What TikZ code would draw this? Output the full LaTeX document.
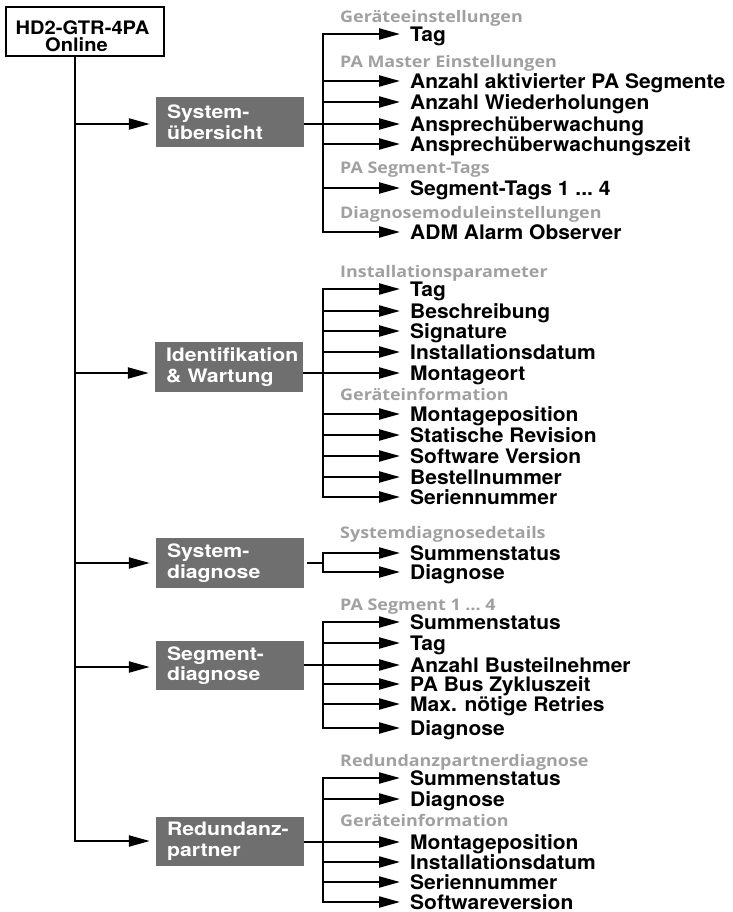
\documentclass[tikz,border=0pt]{standalone}
\usepackage{fontspec}
\usetikzlibrary{arrows.meta}
\newfontfamily\helvitem[FakeStretch=1.05]{TeX Gyre Heros}
\newfontfamily\helvbox[FakeStretch=1.15]{TeX Gyre Heros}
\newfontfamily\helvtop[FakeStretch=1.08]{TeX Gyre Heros}
\newfontfamily\headfont[FakeStretch=1.12]{Open Sans}
\definecolor{boxgray}{HTML}{6F6F6F}
\definecolor{headgray}{HTML}{A0A0A0}
\newcommand\mythreedots{...}
\begin{document}
\begin{tikzpicture}[x=1pt,y=-1pt,
  conn/.style={line width=2.2pt},
  arr/.style={conn,-{Triangle[length=21pt,width=11pt]}},
  item/.style={anchor=west,inner xsep=10pt,inner ysep=0pt,text height=14.4pt,text depth=0pt,
    font=\helvitem\bfseries\fontsize{20}{21}\selectfont},
  head/.style={anchor=west,inner sep=0pt,text height=11.4pt,text depth=0pt,text=headgray,
    font=\headfont\bfseries\fontsize{16}{18}\selectfont},
  gbox/.style={fill=boxgray,text=white,minimum height=49.5pt,inner xsep=11pt,inner ysep=0pt,
    text width=126pt,align=left,font=\helvbox\bfseries\fontsize{18.5}{20.5}\selectfont},
  topbox/.style={draw,line width=2.2pt,minimum width=158pt,inner xsep=0pt,inner ysep=4pt,align=center,
    font=\helvtop\bfseries\fontsize{18.6}{17}\selectfont}
]
\useasboundingbox (0,0) rectangle (732,912);

% root
\node[topbox,anchor=north] (top) at (85,6) {\rule{0pt}{23.6pt}HD2-GTR-4PA\kern5pt\\Online\kern17pt};

% trunk coordinates
\coordinate (trunk) at (75,0);
\coordinate (r1) at (75,124);
\coordinate (r2) at (75,373);
\coordinate (r3) at (75,563);
\coordinate (r4) at (75,667);
\coordinate (r5) at (75,841);
\coordinate (bus) at (323,0);

% grey boxes
\node[gbox] (b1) at (230,122.2) {System-\\übersicht};
\node[gbox] (b2) at (229,367) {Identifikation\\\& Wartung};
\node[gbox] (b3) at (230,563) {System-\\diagnose};
\node[gbox] (b4) at (230,665.5) {Segment-\\diagnose};
\node[gbox] (b5) at (230,841.5) {Redundanz-\\partner};

\draw[conn,line cap=rect] (top.south -| trunk) -- (r5);
\foreach \r/\b in {r1/b1,r2/b2,r3/b3,r4/b4,r5/b5}
  \draw[arr,shorten >=6pt] (\r) -- (\b.west |- \r);

% headings
\foreach \n/\y/\t in {h11/17/Geräteeinstellungen, h12/62/PA Master Einstellungen,
    h13/168/PA Segment-Tags, h14/213/Diagnosemoduleinstellungen,
    h21/272/Installationsparameter, h22/395/Geräteinformation,
    h31/533/Systemdiagnosedetails, h41/605/PA Segment 1 … 4,
    h51/761/Redundanzpartnerdiagnose, h52/821/Geräteinformation}
  \node[head] (\n) at (340,\y) {\t};

% items
\foreach \n/\y/\t in {i11/34/Tag, i12/81/Anzahl aktivierter PA Segmente, i13/102/Anzahl Wiederholungen,
    i14/124/Ansprechüberwachung, i15/144/Ansprechüberwachungszeit, i16/188/Segment-Tags 1 \mythreedots\ 4,
    i17/232/ADM Alarm Observer,
    i21/289/Tag, i22/311/Beschreibung, i23/331/Signature, i24/352/Installationsdatum,
    i25/373/Montageort, i26/414/Montageposition, i27/435/Statische Revision,
    i28/456/Software Version, i29/477/Bestellnummer, i2a/497/Seriennummer,
    i31/553/Summenstatus, i32/572/Diagnose,
    i41/622/Summenstatus, i42/643/Tag, i43/665/Anzahl Busteilnehmer,
    i44/684/PA Bus Zykluszeit, i45/704/Max. nötige Retries, i46/728/Diagnose,
    i51/778/Summenstatus, i52/799/Diagnose, i53/842/Montageposition,
    i54/862/Installationsdatum, i55/882/Seriennummer, i56/902/Softwareversion}
{
  \node[item] (\n) at (400,\y) {\t};
  \draw[arr] (bus |- \n.west) -- (\n.west);
}

% buses
\draw[conn,line cap=rect] (bus |- i11.west) -- (bus |- i17.west);
\draw[conn,line cap=rect] (bus |- i21.west) -- (bus |- i2a.west);
\draw[conn,line cap=rect] (bus |- i31.west) -- (bus |- i32.west);
\draw[conn,line cap=rect] (bus |- i41.west) -- (bus |- i46.west);
\draw[conn,line cap=rect] (bus |- i51.west) -- (bus |- i56.west);

% box to bus
\draw[conn] (b1.east |- i14.west) -- (bus |- i14.west);
\draw[conn] (b2.east |- i25.west) -- (bus |- i25.west);
\draw[conn,shorten <=3pt] (b3.east) -- (bus |- b3.east);
\draw[conn] (b4.east |- i43.west) -- (bus |- i43.west);
\draw[conn] (b5.east |- i53.west) -- (bus |- i53.west);
\end{tikzpicture}
\end{document}
